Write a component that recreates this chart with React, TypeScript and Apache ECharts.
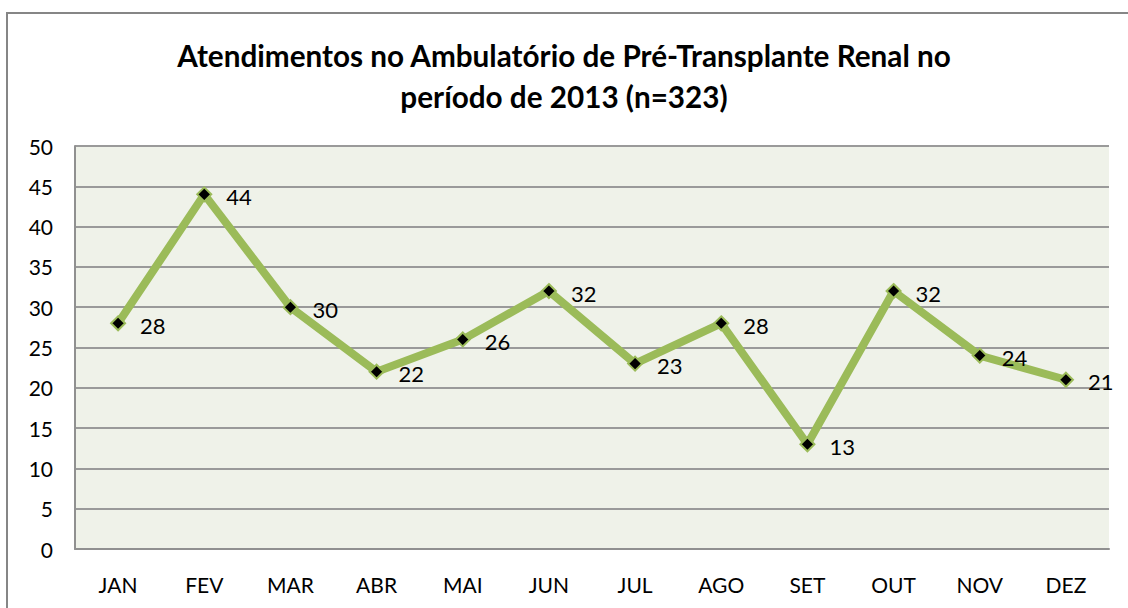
import React, { useEffect, useRef } from "react";
import * as echarts from "echarts";

const categories = ["JAN", "FEV", "MAR", "ABR", "MAI", "JUN", "JUL", "AGO", "SET", "OUT", "NOV", "DEZ"];
const values = [28, 44, 30, 22, 26, 32, 23, 28, 13, 32, 24, 21];
const titleText = "Atendimentos no Ambulatório de Pré-Transplante Renal no\nperíodo de 2013 (n=323)";

export default function App() {
  const ref = useRef<HTMLDivElement>(null);
  useEffect(() => {
    document.body.style.margin = "0";
    const chart = echarts.init(ref.current!, undefined, { renderer: "svg" });
    const font = "Lato, 'Open Sans', sans-serif";
    chart.setOption({
      animation: false,
      backgroundColor: "#ffffff",
      title: {
        text: titleText,
        left: "center",
        top: 30,
        textStyle: { fontFamily: font, fontSize: 29.7, fontWeight: "bold", color: "#000", lineHeight: 41 },
      },
      graphic: [
        {
          type: "rect",
          shape: { x: 7, y: 13, width: 1130, height: 610 },
          style: { fill: "none", stroke: "#868686", lineWidth: 2 },
          silent: true,
        },
      ],
      grid: { left: 75, top: 146, right: 19, bottom: 59, show: true, backgroundColor: "#EFF2E9", borderWidth: 0 },
      xAxis: {
        type: "category",
        data: categories,
        boundaryGap: true,
        axisLine: { show: true, lineStyle: { color: "#909090", width: 2 } },
        axisTick: { show: false },
        axisLabel: { fontFamily: font, fontSize: 21, color: "#000", margin: 25 },
      },
      yAxis: {
        type: "value",
        min: 0,
        max: 50,
        interval: 5,
        axisLine: { show: true, lineStyle: { color: "#909090", width: 2 } },
        axisTick: { show: false },
        splitLine: { show: true, lineStyle: { color: "#9a9a9a", width: 2 } },
        axisLabel: { fontFamily: font, fontSize: 21, color: "#000", margin: 22 },
      },
      series: [
        {
          type: "line",
          data: values,
          lineStyle: { color: "#9BBB59", width: 8 },
          symbol: "diamond",
          symbolSize: 14,
          itemStyle: { color: "#000", borderColor: "#9BBB59", borderWidth: 2 },
          label: {
            show: true,
            position: "right",
            distance: 14,
            offset: [0, 2],
            fontFamily: font,
            fontSize: 22,
            color: "#000",
          },
        },
      ],
    });
    return () => chart.dispose();
  }, []);
  return <div ref={ref} style={{ width: 1128, height: 608 }} />;
}
